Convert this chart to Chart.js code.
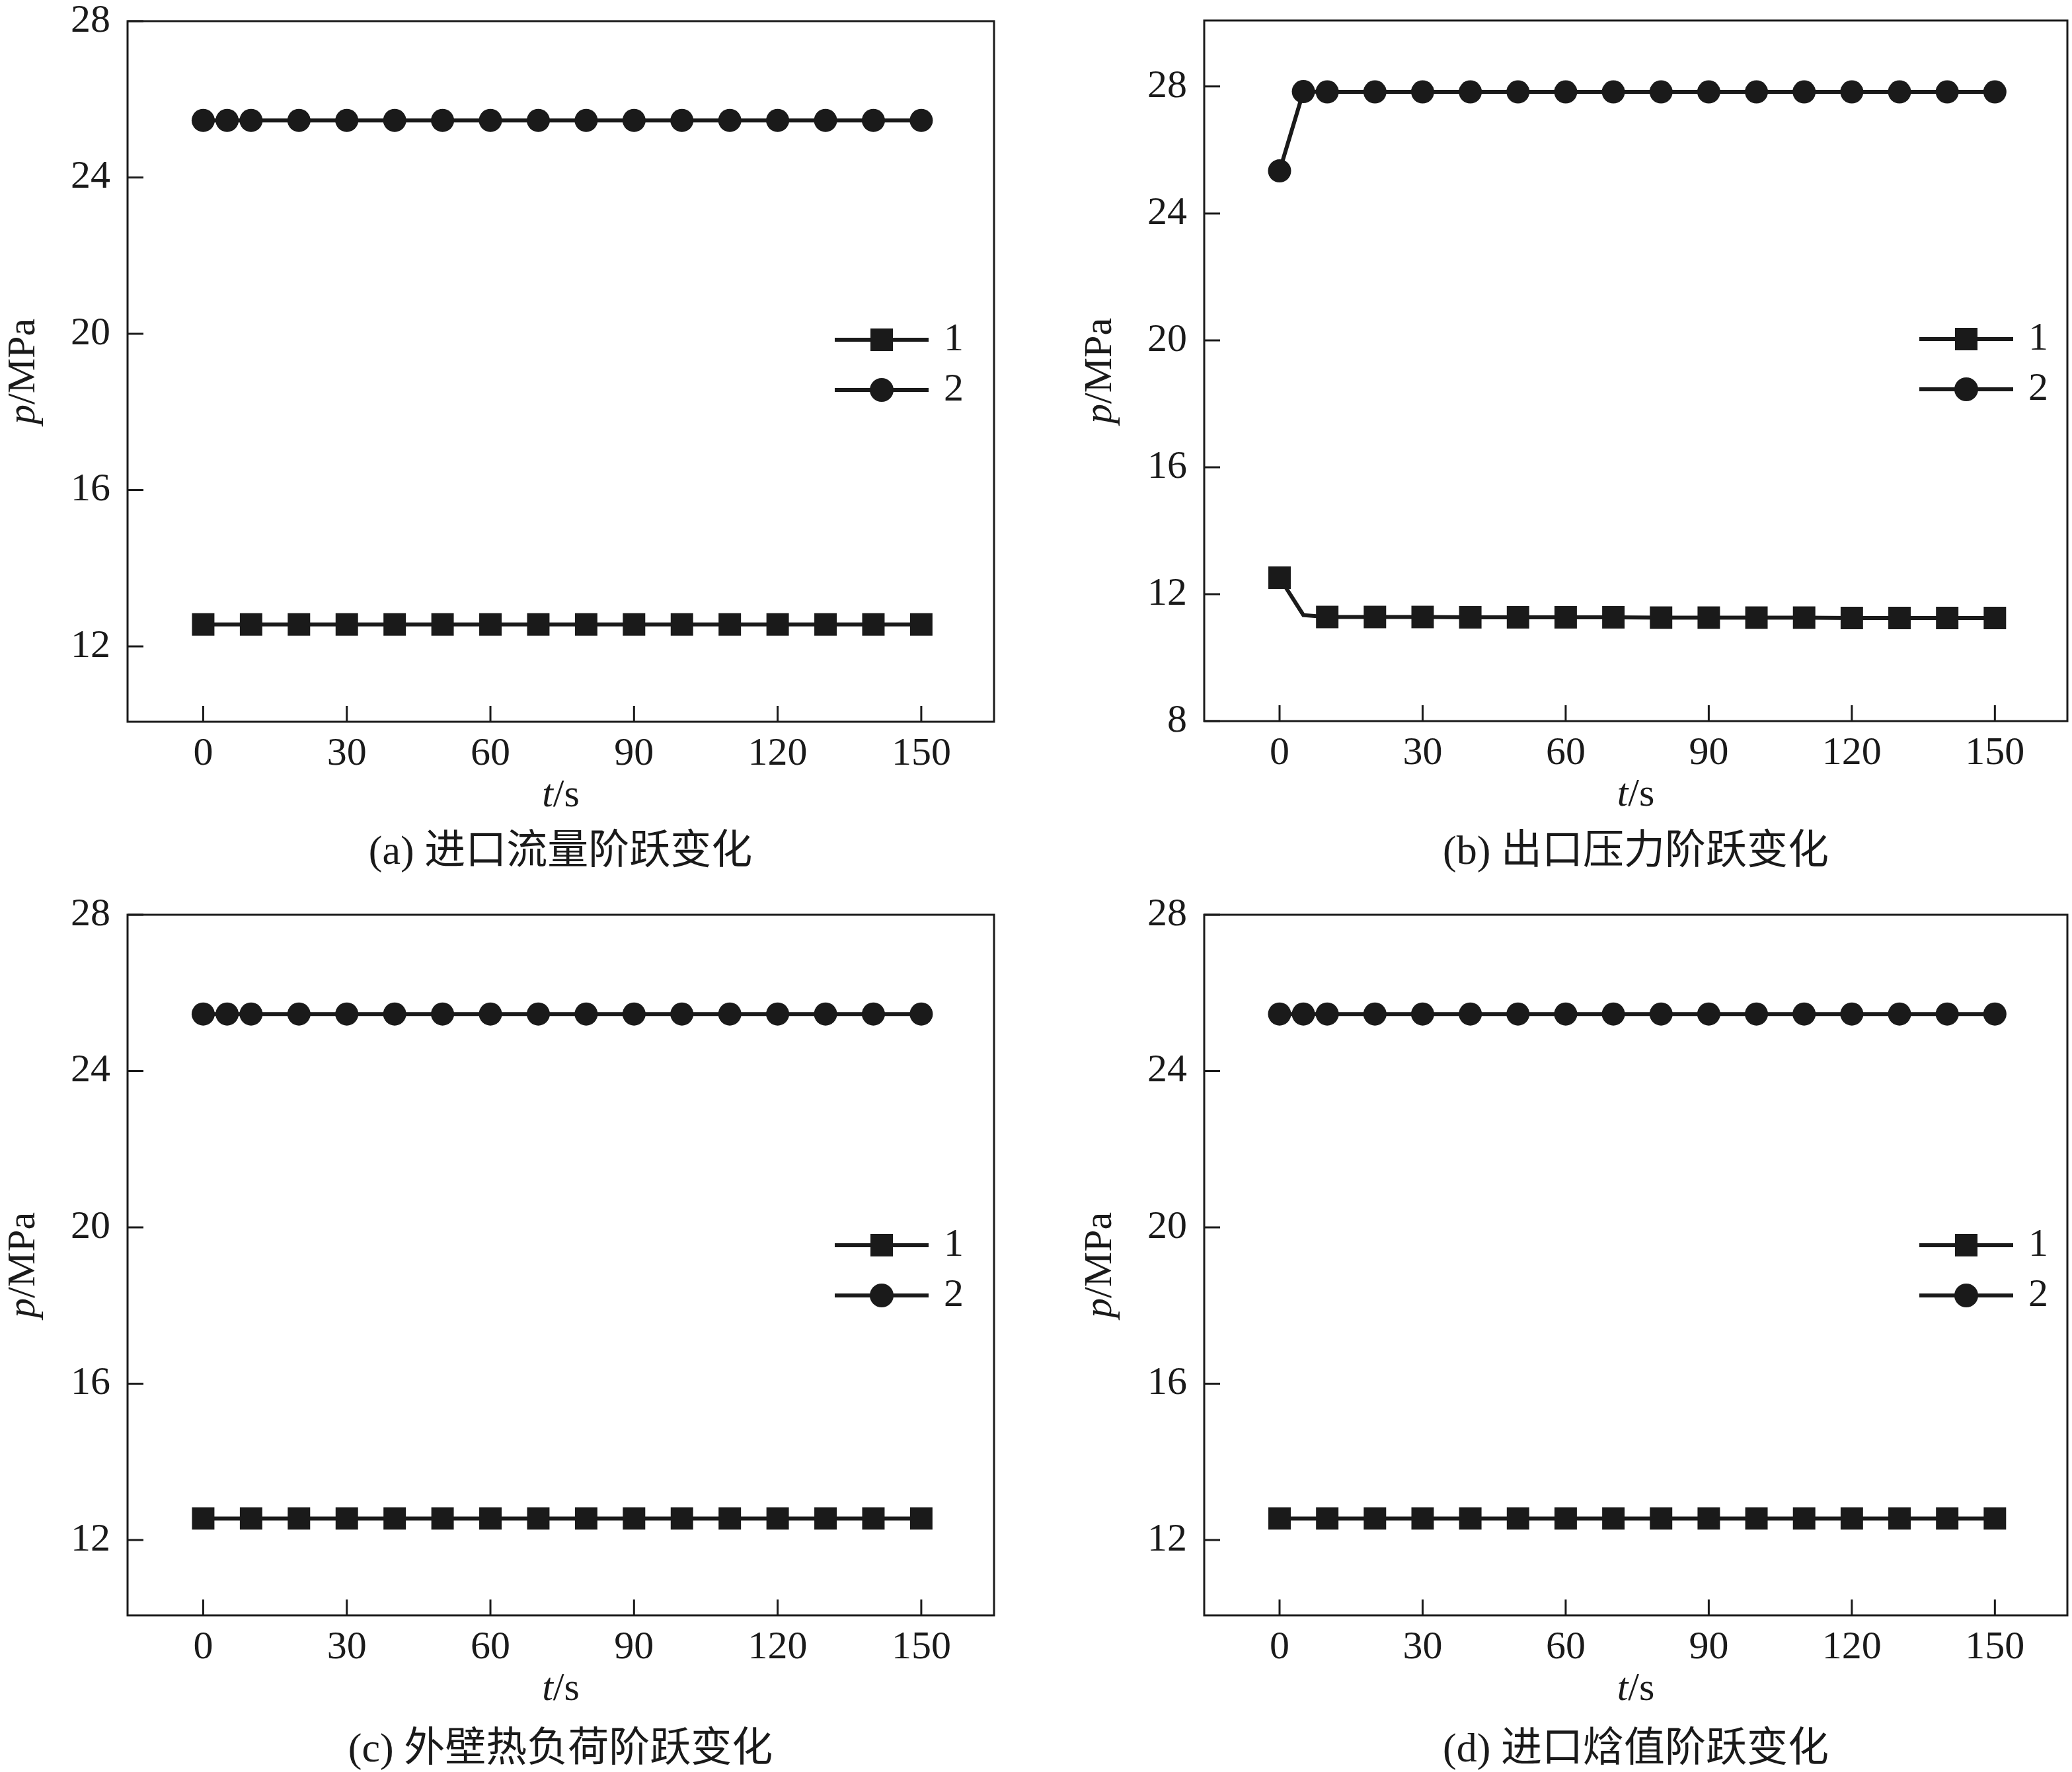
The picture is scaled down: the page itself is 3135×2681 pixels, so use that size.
<!DOCTYPE html>
<html><head><meta charset="utf-8">
<script src="https://cdn.jsdelivr.net/npm/chart.js@4.4.1/dist/chart.umd.min.js"></script>
<style>
html,body{margin:0;padding:0;background:#fff;width:3135px;height:2681px;overflow:hidden;position:relative}
canvas{position:absolute}
.cap{position:absolute;font-family:"Liberation Serif","Noto Sans CJK SC",serif;font-size:62px;line-height:62px;height:62px;color:#1a1a1a;text-align:center;white-space:nowrap;width:1200px}
</style></head><body>
<script>
// ---------------- data ----------------
const timeS   = [0, 5, 10, 20, 30, 40, 50, 60, 70, 80, 90, 100, 110, 120, 130, 140, 150];
const xTicks  = [0, 30, 60, 90, 120, 150];
const yTicksA = [12, 16, 20, 24, 28];
const yTicksB = [8, 12, 16, 20, 24, 28];
const seriesNames = ['1', '2'];
const captions = ['(a) 进口流量阶跃变化', '(b) 出口压力阶跃变化', '(c) 外壁热负荷阶跃变化', '(d) 进口焓值阶跃变化'];

const pA1 = [12.56, 12.56, 12.56, 12.56, 12.56, 12.56, 12.56, 12.56, 12.56, 12.56, 12.56, 12.56, 12.56, 12.56, 12.56, 12.56, 12.56];
const pA2 = [25.46, 25.46, 25.46, 25.46, 25.46, 25.46, 25.46, 25.46, 25.46, 25.46, 25.46, 25.46, 25.46, 25.46, 25.46, 25.46, 25.46];
const pB1 = [12.52, 11.34, 11.28, 11.28, 11.28, 11.27, 11.27, 11.27, 11.27, 11.26, 11.26, 11.26, 11.26, 11.25, 11.25, 11.25, 11.25];
const pB2 = [25.34, 27.84, 27.83, 27.83, 27.83, 27.83, 27.83, 27.83, 27.83, 27.83, 27.83, 27.83, 27.83, 27.83, 27.83, 27.83, 27.83];
const pC1 = [12.55, 12.55, 12.55, 12.55, 12.55, 12.55, 12.55, 12.55, 12.55, 12.55, 12.55, 12.55, 12.55, 12.55, 12.55, 12.55, 12.55];
const pC2 = [25.46, 25.46, 25.46, 25.46, 25.46, 25.46, 25.46, 25.46, 25.46, 25.46, 25.46, 25.46, 25.46, 25.46, 25.46, 25.46, 25.46];
const pD1 = [12.55, 12.55, 12.55, 12.55, 12.55, 12.55, 12.55, 12.55, 12.55, 12.55, 12.55, 12.55, 12.55, 12.55, 12.55, 12.55, 12.55];
const pD2 = [25.46, 25.46, 25.46, 25.46, 25.46, 25.46, 25.46, 25.46, 25.46, 25.46, 25.46, 25.46, 25.46, 25.46, 25.46, 25.46, 25.46];

// ---------------- layout / style ----------------
const INK = '#1a1a1a';
const SERIF = '"Liberation Serif", "Times New Roman", serif';
const PAD_L = 100, Y_W = 200, PAD_R = 300, PAD_T = 150, X_H = 150, PAD_B = 150;

const panels = [
  {L:193,  T:32,   R:1504, B:1092, ymin:10.07, ymax:28,    yt:yTicksA, s1:pA1, s2:pA2, legTop:482, legDx:0,  cap:[848, 1286]},
  {L:1822, T:31,   R:3128, B:1091, ymin:8,     ymax:30.08, yt:yTicksB, s1:pB1, s2:pB2, legTop:482, legDx:17, cap:[2475,1286]},
  {L:193,  T:1384, R:1504, B:2444, ymin:10.07, ymax:28,    yt:yTicksA, s1:pC1, s2:pC2, legTop:500, legDx:0,  cap:[848, 2644]},
  {L:1822, T:1384, R:3128, B:2444, ymin:10.07, ymax:28,    yt:yTicksA, s1:pD1, s2:pD2, legTop:500, legDx:17, cap:[2475,2644]}
];

function drawMarker(ctx, style, x, y) {
  ctx.fillStyle = INK;
  ctx.beginPath();
  if (style === 'rect') { ctx.rect(x - 17, y - 17, 34, 34); }
  else { ctx.arc(x, y, 18, 0, Math.PI * 2); }
  ctx.fill();
}

const deco = {
  id: 'deco',
  afterDraw(chart, args, opts) {
    const {ctx, chartArea: ca, scales: {x, y}} = chart;
    ctx.save();
    // frame
    ctx.strokeStyle = INK; ctx.lineWidth = 3;
    ctx.strokeRect(ca.left, ca.top, ca.right - ca.left, ca.bottom - ca.top);
    // inward ticks
    ctx.beginPath();
    x.ticks.forEach(t => { const px = x.getPixelForValue(t.value); ctx.moveTo(px, ca.bottom); ctx.lineTo(px, ca.bottom - 24); });
    y.ticks.forEach(t => { const py = y.getPixelForValue(t.value); ctx.moveTo(ca.left, py); ctx.lineTo(ca.left + 24, py); });
    ctx.stroke();
    ctx.fillStyle = INK;
    // x title  t/s
    const xFontI = 'italic 60px ' + SERIF, xFont = '60px ' + SERIF;
    ctx.textBaseline = 'alphabetic'; ctx.textAlign = 'left';
    ctx.font = xFontI; const wt = ctx.measureText('t').width;
    ctx.font = xFont;  const ws = ctx.measureText('/s').width;
    const cx = (ca.left + ca.right) / 2, by = ca.bottom + 128;
    ctx.font = xFontI; ctx.fillText('t', cx - (wt + ws) / 2, by);
    ctx.font = xFont;  ctx.fillText('/s', cx - (wt + ws) / 2 + wt, by);
    // y title  p/MPa (rotated)
    ctx.save();
    ctx.translate(ca.left - 141, (ca.top + ca.bottom) / 2);
    ctx.rotate(-Math.PI / 2);
    ctx.font = xFontI; const wp = ctx.measureText('p').width;
    ctx.font = xFont;  const wm = ctx.measureText('/MPa').width;
    ctx.font = xFontI; ctx.fillText('p', -(wp + wm) / 2, 0);
    ctx.font = xFont;  ctx.fillText('/MPa', -(wp + wm) / 2 + wp, 0);
    ctx.restore();
    // legend
    chart.data.datasets.forEach((ds, i) => {
      const yy = ca.top + opts.legTop + i * 76;
      const rx = ca.right + opts.legDx;
      ctx.strokeStyle = INK; ctx.lineWidth = 6;
      ctx.beginPath(); ctx.moveTo(rx - 241, yy); ctx.lineTo(rx - 99, yy); ctx.stroke();
      drawMarker(ctx, ds.pointStyle, rx - 170, yy);
      ctx.fillStyle = INK; ctx.font = '60px ' + SERIF; ctx.textBaseline = 'middle'; ctx.textAlign = 'left';
      ctx.fillText(ds.label, rx - 76, yy);
    });
    ctx.restore();
  }
};

panels.forEach((p, k) => {
  const W = (p.R - p.L) + PAD_L + Y_W + PAD_R;
  const H = (p.B - p.T) + PAD_T + X_H + PAD_B;
  const cv = document.createElement('canvas');
  cv.width = W; cv.height = H;
  cv.style.width = W + 'px'; cv.style.height = H + 'px';
  cv.style.left = (p.L - PAD_L - Y_W) + 'px';
  cv.style.top = (p.T - PAD_T) + 'px';
  document.body.appendChild(cv);

  const cap = document.createElement('div');
  cap.className = 'cap';
  cap.textContent = captions[k];
  cap.style.left = (p.cap[0] - 600) + 'px';
  cap.style.top = (p.cap[1] - 31) + 'px';
  document.body.appendChild(cap);

  const mk = (vals) => timeS.map((t, i) => ({x: t, y: vals[i]}));
  new Chart(cv, {
    type: 'line',
    data: {
      datasets: [
        {label: seriesNames[0], data: mk(p.s1), borderColor: INK, backgroundColor: INK, borderWidth: 6,
         pointStyle: 'rect', pointRadius: c => (c.dataIndex === 1 ? 0 : 24), pointBorderWidth: 0,
         pointBackgroundColor: INK, tension: 0, fill: false},
        {label: seriesNames[1], data: mk(p.s2), borderColor: INK, backgroundColor: INK, borderWidth: 6,
         pointStyle: 'circle', pointRadius: 17.5, pointBorderWidth: 0,
         pointBackgroundColor: INK, tension: 0, fill: false}
      ]
    },
    options: {
      responsive: false, animation: false, devicePixelRatio: 1,
      layout: {padding: {left: PAD_L, right: PAD_R, top: PAD_T, bottom: PAD_B}},
      plugins: {legend: {display: false}, tooltip: {enabled: false}, deco: {legTop: p.legTop, legDx: p.legDx}},
      scales: {
        x: {type: 'linear', min: -15.8, max: 165.2,
            afterBuildTicks: s => { s.ticks = xTicks.map(v => ({value: v})); },
            afterFit: s => { s.height = X_H; },
            grid: {display: false, drawTicks: false}, border: {display: false},
            ticks: {padding: 13, color: INK, font: {family: SERIF, size: 60}, maxRotation: 0, autoSkip: false}},
        y: {type: 'linear', min: p.ymin, max: p.ymax,
            afterBuildTicks: s => { s.ticks = p.yt.map(v => ({value: v})); },
            afterFit: s => { s.width = Y_W; },
            grid: {display: false, drawTicks: false}, border: {display: false},
            ticks: {padding: 26, color: INK, font: {family: SERIF, size: 60}, autoSkip: false}}
      }
    },
    plugins: [deco]
  });
});
</script>
</body></html>
